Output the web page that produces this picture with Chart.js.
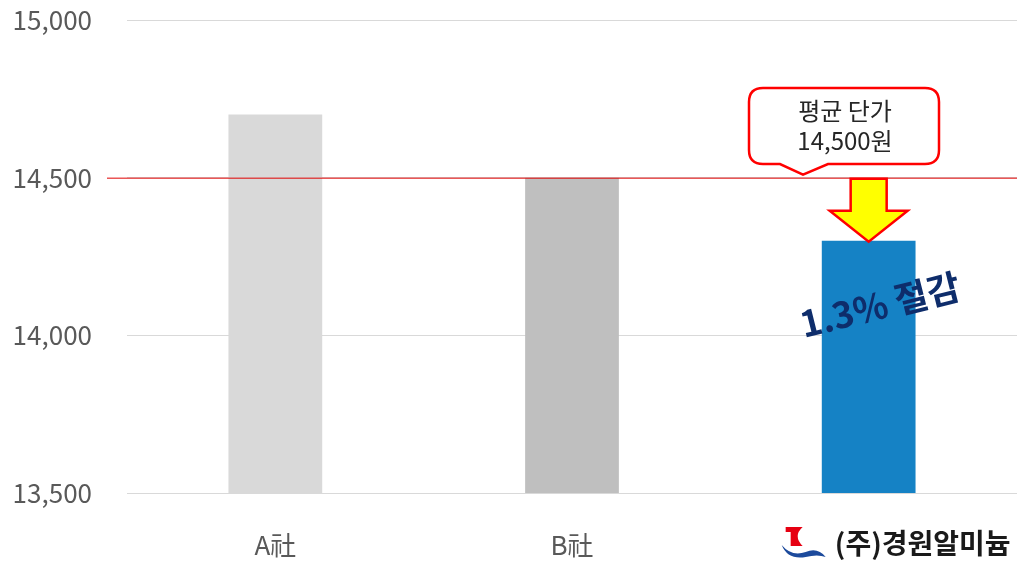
<!DOCTYPE html>
<html>
<head>
<meta charset="utf-8">
<script src="https://cdn.jsdelivr.net/npm/chart.js@4"></script>
<style>
  html, body { margin: 0; padding: 0; background: #fff; }
  #wrap { width: 1017px; height: 567px; }
</style>
</head>
<body>
<div id="wrap"><canvas id="chart"></canvas></div>
<script>
const categories = ['A社', 'B社', '(주)경원알미늄'];
const prices = [14700, 14500, 14300];
const barColors = ['#d9d9d9', '#bfbfbf', '#1582c5'];
const averagePrice = 14500;
const calloutLines = ['평균 단가', '14,500원'];
const savingText = '1.3% 절감';

const FONT = '"Noto Sans CJK KR", "Noto Sans", sans-serif';

// average line, callout, arrow and the saving label
const annotations = {
    id: 'annotations',
    afterDatasetsDraw(chart) {
        const ctx = chart.ctx;
        const area = chart.chartArea;
        const yScale = chart.scales.y;
        const xScale = chart.scales.x;
        const avgY = yScale.getPixelForValue(averagePrice);
        const cx = xScale.getPixelForValue(2);
        const barTop = yScale.getPixelForValue(prices[2]);

        ctx.save();
        // average line
        ctx.strokeStyle = '#e00000';
        ctx.lineWidth = 1;
        ctx.beginPath();
        ctx.moveTo(area.left - 20, avgY + 0.5);
        ctx.lineTo(area.right, avgY + 0.5);
        ctx.stroke();

        // callout box
        const bx = 749, by = 88, bw = 190, bh = 76, r = 14;
        const tipX = 803, tipY = avgY - 3;
        ctx.beginPath();
        ctx.moveTo(bx + r, by);
        ctx.lineTo(bx + bw - r, by);
        ctx.quadraticCurveTo(bx + bw, by, bx + bw, by + r);
        ctx.lineTo(bx + bw, by + bh - r);
        ctx.quadraticCurveTo(bx + bw, by + bh, bx + bw - r, by + bh);
        ctx.lineTo(828, by + bh);
        ctx.lineTo(tipX, tipY);
        ctx.lineTo(780, by + bh);
        ctx.lineTo(bx + r, by + bh);
        ctx.quadraticCurveTo(bx, by + bh, bx, by + bh - r);
        ctx.lineTo(bx, by + r);
        ctx.quadraticCurveTo(bx, by, bx + r, by);
        ctx.closePath();
        ctx.fillStyle = '#ffffff';
        ctx.fill();
        ctx.strokeStyle = '#ff0000';
        ctx.lineWidth = 2.5;
        ctx.stroke();

        ctx.fillStyle = '#262626';
        ctx.font = '24px ' + FONT;
        ctx.textAlign = 'center';
        ctx.textBaseline = 'middle';
        ctx.fillText(calloutLines[0], bx + bw / 2 + 1, 111);
        ctx.fillText(calloutLines[1], bx + bw / 2 + 1, 141);

        // down arrow
        const shaftHalf = 18, headHalf = 39;
        const headY = avgY + 33;
        ctx.beginPath();
        ctx.moveTo(cx - shaftHalf, avgY + 1);
        ctx.lineTo(cx + shaftHalf, avgY + 1);
        ctx.lineTo(cx + shaftHalf, headY);
        ctx.lineTo(cx + headHalf, headY);
        ctx.lineTo(cx, barTop + 1);
        ctx.lineTo(cx - headHalf, headY);
        ctx.lineTo(cx - shaftHalf, headY);
        ctx.closePath();
        ctx.fillStyle = '#ffff00';
        ctx.fill();
        ctx.strokeStyle = '#ff0000';
        ctx.lineWidth = 2.5;
        ctx.lineJoin = 'miter';
        ctx.stroke();

        // saving label
        ctx.translate(880, 305);
        ctx.rotate(-14 * Math.PI / 180);
        ctx.fillStyle = '#0e2d6b';
        ctx.font = 'bold 36px ' + FONT;
        ctx.textAlign = 'center';
        ctx.textBaseline = 'middle';
        ctx.fillText(savingText, 0, 0);
        ctx.restore();
    },
    afterDraw(chart) {
        const ctx = chart.ctx;
        const xScale = chart.scales.x;
        const cx = xScale.getPixelForValue(2);
        ctx.save();
        // small logo: red flag over a blue wave
        const lx = cx - 83, ly = 527;
        ctx.fillStyle = '#e60012';
        ctx.beginPath();
        ctx.moveTo(lx, ly);
        ctx.lineTo(lx + 17, ly);
        ctx.quadraticCurveTo(lx + 7, ly + 9, lx + 17, ly + 19);
        ctx.lineTo(lx + 5, ly + 19);
        ctx.lineTo(lx + 5, ly + 5);
        ctx.lineTo(lx, ly + 5);
        ctx.closePath();
        ctx.fill();
        ctx.fillStyle = '#1c4a9c';
        ctx.beginPath();
        ctx.moveTo(lx - 4, ly + 18);
        ctx.quadraticCurveTo(lx + 2, ly + 33, lx + 20, ly + 30);
        ctx.quadraticCurveTo(lx + 32, ly + 27, lx + 40, ly + 30);
        ctx.quadraticCurveTo(lx + 32, ly + 20, lx + 20, ly + 25);
        ctx.quadraticCurveTo(lx + 6, ly + 30, lx - 4, ly + 18);
        ctx.closePath();
        ctx.fill();

        ctx.fillStyle = '#1a1a1a';
        ctx.font = 'bold 28px ' + FONT;
        ctx.textAlign = 'center';
        ctx.textBaseline = 'middle';
        ctx.fillText(categories[2], cx + 54, 543);
        ctx.restore();
    }
};

new Chart(document.getElementById('chart'), {
    type: 'bar',
    data: {
        labels: categories,
        datasets: [{
            data: prices,
            backgroundColor: barColors,
            barPercentage: 0.632,
            categoryPercentage: 0.5
        }]
    },
    options: {
        responsive: true,
        maintainAspectRatio: false,
        animation: false,
        layout: { padding: { top: 20, right: 0, left: 0, bottom: 0 } },
        plugins: {
            legend: { display: false },
            tooltip: { enabled: false }
        },
        scales: {
            x: {
                grid: { display: false },
                border: { color: '#d9d9d9' },
                afterFit(scale) {
                    scale.height = 74;
                    scale.paddingLeft = 0;
                    scale.paddingRight = 0;
                },
                ticks: {
                    color: '#595959',
                    font: { size: 26, family: FONT },
                    padding: 29,
                    callback(value, index) {
                        return index === 2 ? '' : categories[index];
                    }
                }
            },
            y: {
                min: 13500,
                max: 15000,
                border: { display: false },
                afterFit(scale) {
                    scale.width = 127;
                    scale.paddingTop = 0;
                    scale.paddingBottom = 0;
                },
                grid: { color: '#d9d9d9', drawTicks: false },
                ticks: {
                    stepSize: 500,
                    color: '#595959',
                    font: { size: 26, family: FONT },
                    padding: 35,
                    callback(value) { return value.toLocaleString('en-US'); }
                }
            }
        }
    },
    plugins: [annotations]
});
</script>
</body>
</html>
